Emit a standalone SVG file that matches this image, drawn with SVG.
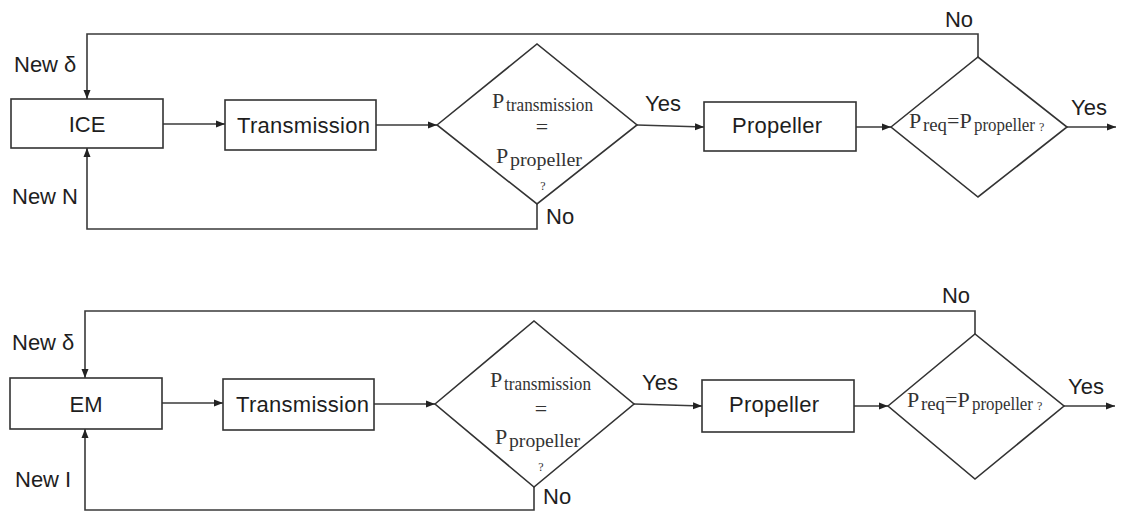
<svg xmlns="http://www.w3.org/2000/svg" width="1122" height="511" viewBox="0 0 1122 511">
<defs>
<marker id="ah" markerUnits="userSpaceOnUse" markerWidth="10" markerHeight="8" refX="9" refY="4" orient="auto">
<path d="M0,0.5 L9,4 L0,7.5 Z" fill="#222"/>
</marker>
<style>
.box{fill:#fff;stroke:#333;stroke-width:1.6}
.dia{fill:#fff;stroke:#333;stroke-width:1.6}
.con{fill:none;stroke:#3a3a3a;stroke-width:1.6}
.arr{marker-end:url(#ah)}
.t{font-family:"Liberation Sans",Arial,sans-serif;font-size:22px;fill:#1e1e1e}
.m{font-family:"Liberation Serif","Times New Roman",serif;font-size:22px;fill:#333}
.s{font-size:18px}
.q{font-size:12px}
</style>
</defs>
<rect width="1122" height="511" fill="#fff"/>

<g id="connectors">
<path class="con arr" d="M163,124 H225"/>
<path class="con arr" d="M376,125 H437"/>
<path class="con arr" d="M637,125 L704,127"/>
<path class="con arr" d="M856,127 H891"/>
<path class="con arr" d="M1067,127 H1116"/>
<path class="con arr" d="M978,57 V34 H87 V99"/>
<path class="con arr" d="M537,204 V229 H87 V148"/>

<path class="con arr" d="M162,403 H223"/>
<path class="con arr" d="M374,404 H435"/>
<path class="con arr" d="M634,404 L702,406"/>
<path class="con arr" d="M854,406 H888"/>
<path class="con arr" d="M1064,406 H1115"/>
<path class="con arr" d="M975,334 V311 H85 V378"/>
<path class="con arr" d="M534,487 V510 H85 V429"/>
</g>

<g id="labels">
<text class="t" x="14" y="72">New δ</text>
<text class="t" x="12" y="204">New N</text>
<text class="t" x="645" y="111">Yes</text>
<text class="t" x="546" y="224">No</text>
<text class="t" x="959" y="27" text-anchor="middle">No</text>
<text class="t" x="1071" y="115">Yes</text>

<text class="t" x="12" y="350">New δ</text>
<text class="t" x="15" y="487">New I</text>
<text class="t" x="642" y="390">Yes</text>
<text class="t" x="543" y="504">No</text>
<text class="t" x="956" y="303" text-anchor="middle">No</text>
<text class="t" x="1068" y="394">Yes</text>
</g>

<g id="ice">
<rect class="box" x="11" y="99" width="152" height="49"/>
<text class="t" x="87" y="132" text-anchor="middle">ICE</text>
</g>
<g id="transmission1">
<rect class="box" x="225" y="100" width="151" height="50"/>
<text class="t" x="237" y="133" textLength="133">Transmission</text>
</g>
<g id="decision1">
<polygon class="dia" points="437,125 537,44 637,125 537,204"/>
<text class="m" x="492" y="108">P<tspan class="s" x="506" y="111" textLength="87" lengthAdjust="spacingAndGlyphs">transmission</tspan></text>
<text class="m" x="542" y="134" text-anchor="middle">=</text>
<text class="m" x="496" y="163">P<tspan class="s" x="510" y="166" textLength="72" lengthAdjust="spacingAndGlyphs">propeller</tspan></text>
<text class="m q" x="543" y="190" text-anchor="middle">?</text>
</g>
<g id="propeller1">
<rect class="box" x="704" y="102" width="152" height="49"/>
<text class="t" x="732" y="133" textLength="90">Propeller</text>
</g>
<g id="decision2">
<polygon class="dia" points="891,127 978,57 1067,127 978,197"/>
<text class="m" x="909" y="128">P<tspan class="s" x="923" y="131" textLength="24" lengthAdjust="spacingAndGlyphs">req</tspan><tspan x="947" y="128">=P</tspan><tspan class="s" x="974" y="131" textLength="61" lengthAdjust="spacingAndGlyphs">propeller</tspan><tspan class="q" x="1039" y="131">?</tspan></text>
</g>

<g id="em">
<rect class="box" x="10" y="378" width="152" height="51"/>
<text class="t" x="86" y="412" text-anchor="middle">EM</text>
</g>
<g id="transmission2">
<rect class="box" x="223" y="379" width="151" height="51"/>
<text class="t" x="236" y="412" textLength="133">Transmission</text>
</g>
<g id="decision3">
<polygon class="dia" points="435,404 534,321 634,404 534,487"/>
<text class="m" x="490" y="387">P<tspan class="s" x="504" y="390" textLength="87" lengthAdjust="spacingAndGlyphs">transmission</tspan></text>
<text class="m" x="541" y="416" text-anchor="middle">=</text>
<text class="m" x="495" y="444">P<tspan class="s" x="509" y="447" textLength="71" lengthAdjust="spacingAndGlyphs">propeller</tspan></text>
<text class="m q" x="541" y="471" text-anchor="middle">?</text>
</g>
<g id="propeller2">
<rect class="box" x="702" y="380" width="152" height="52"/>
<text class="t" x="729" y="412" textLength="90">Propeller</text>
</g>
<g id="decision4">
<polygon class="dia" points="888,406 975,334 1064,406 975,479"/>
<text class="m" x="907" y="407">P<tspan class="s" x="921" y="410" textLength="24" lengthAdjust="spacingAndGlyphs">req</tspan><tspan x="945" y="407">=P</tspan><tspan class="s" x="972" y="410" textLength="61" lengthAdjust="spacingAndGlyphs">propeller</tspan><tspan class="q" x="1037" y="410">?</tspan></text>
</g>
</svg>
